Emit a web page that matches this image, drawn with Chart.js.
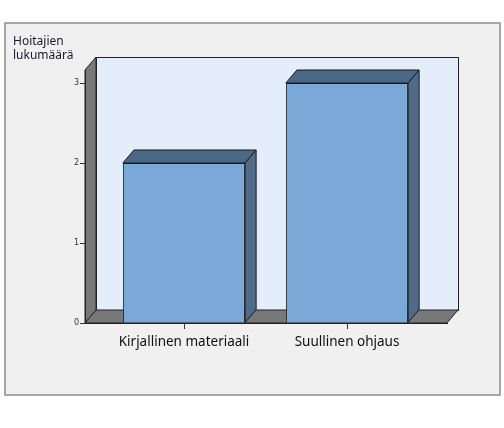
<!DOCTYPE html>
<html>
<head>
<meta charset="utf-8">
<script src="https://cdn.jsdelivr.net/npm/chart.js@4"></script>
<style>
  html, body { margin: 0; padding: 0; background: #fff; }
  #wrap { width: 504px; height: 428px; }
</style>
</head>
<body>
<div id="wrap"><canvas id="chart" width="504" height="428"></canvas></div>
<script>
const categories = ["Kirjallinen materiaali", "Suullinen ohjaus"];
const counts = [2, 3];
const yTicks = [0, 1, 2, 3];
const yTitle = ["Hoitajien", "lukumäärä"];

// depth of the 3d effect
const DX = 11, DY = 13;

const frame3d = {
    id: "frame3d",
    beforeDraw(chart) {
        const c = chart.ctx, a = chart.chartArea;
        c.save();
        c.fillStyle = "#ffffff";
        c.fillRect(0, 0, chart.width, chart.height);
        // outer panel
        c.fillStyle = "#f0f0f0";
        c.fillRect(5, 23, 495, 372);
        c.strokeStyle = "#8c8c8c";
        c.lineWidth = 1.5;
        c.strokeRect(5, 23, 495, 372);

        // title
        c.fillStyle = "#1a1a2a";
        c.font = "12px 'Noto Sans'";
        c.textBaseline = "alphabetic";
        c.fillText(yTitle[0], 13, 45);
        c.fillText(yTitle[1], 13, 59);

        c.lineWidth = 1;
        c.strokeStyle = "#222";
        // back wall
        c.fillStyle = "#e3eefa";
        c.fillRect(a.left + DX, a.top - DY, a.right - a.left, a.bottom - a.top);
        c.strokeRect(a.left + DX + 0.5, a.top - DY + 0.5, a.right - a.left, a.bottom - a.top);
        // left wall
        c.fillStyle = "#787878";
        c.beginPath();
        c.moveTo(a.left, a.top);
        c.lineTo(a.left + DX, a.top - DY);
        c.lineTo(a.left + DX, a.bottom - DY);
        c.lineTo(a.left, a.bottom);
        c.closePath();
        c.fill();
        c.stroke();
        // floor
        c.beginPath();
        c.moveTo(a.left, a.bottom);
        c.lineTo(a.left + DX, a.bottom - DY);
        c.lineTo(a.right + DX, a.bottom - DY);
        c.lineTo(a.right, a.bottom);
        c.closePath();
        c.fill();
        c.stroke();
        c.restore();
    },
    afterDatasetsDraw(chart) {
        const c = chart.ctx;
        c.save();
        c.strokeStyle = "#1a1a1a";
        c.lineWidth = 1;
        chart.getDatasetMeta(0).data.forEach(bar => {
            const x1 = bar.x - bar.width / 2, x2 = bar.x + bar.width / 2;
            const top = bar.y, bottom = bar.base;
            c.fillStyle = "#4b6987";
            c.beginPath();
            c.moveTo(x1, top);
            c.lineTo(x1 + DX, top - DY);
            c.lineTo(x2 + DX, top - DY);
            c.lineTo(x2, top);
            c.closePath();
            c.fill();
            c.stroke();
            c.fillStyle = "#4f6b88";
            c.beginPath();
            c.moveTo(x2, top);
            c.lineTo(x2 + DX, top - DY);
            c.lineTo(x2 + DX, bottom - DY);
            c.lineTo(x2, bottom);
            c.closePath();
            c.fill();
            c.stroke();
        });
        c.restore();
    }
};

new Chart(document.getElementById("chart"), {
    type: "bar",
    data: {
        datasets: [{
            data: counts.map((v, i) => ({ x: i, y: v })),
            backgroundColor: "#7aa9d8",
            borderColor: "#1a1a1a",
            borderWidth: 1,
            barPercentage: 0.75,
            categoryPercentage: 1
        }]
    },
    options: {
        responsive: false,
        animation: false,
        layout: { padding: { top: 70, right: 57, left: 0, bottom: 0 } },
        plugins: { legend: { display: false }, tooltip: { enabled: false } },
        scales: {
            x: {
                type: "linear",
                offset: false,
                min: -0.6074,
                max: 1.6135,
                afterBuildTicks: s => { s.ticks = categories.map((c, i) => ({ value: i })); },
                afterFit: s => { s.height = 105; },
                grid: { offset: false, drawOnChartArea: false, tickLength: 6, color: "#333" },
                border: { display: true, color: "#222" },
                ticks: {
                    callback: v => categories[v],
                    color: "#111",
                    font: { family: "Noto Sans", size: 13.5 },
                    padding: 5,
                    maxRotation: 0
                }
            },
            y: {
                min: 0,
                max: 3.1625,
                afterBuildTicks: s => { s.ticks = yTicks.map(v => ({ value: v })); },
                afterFit: s => { s.width = 85; },
                grid: { drawOnChartArea: false, tickLength: 5, color: "#333" },
                border: { display: true, color: "#222" },
                ticks: {
                    color: "#333",
                    font: { family: "DejaVu Sans", size: 8 },
                    padding: 1
                }
            }
        }
    },
    plugins: [frame3d]
});
</script>
</body>
</html>
